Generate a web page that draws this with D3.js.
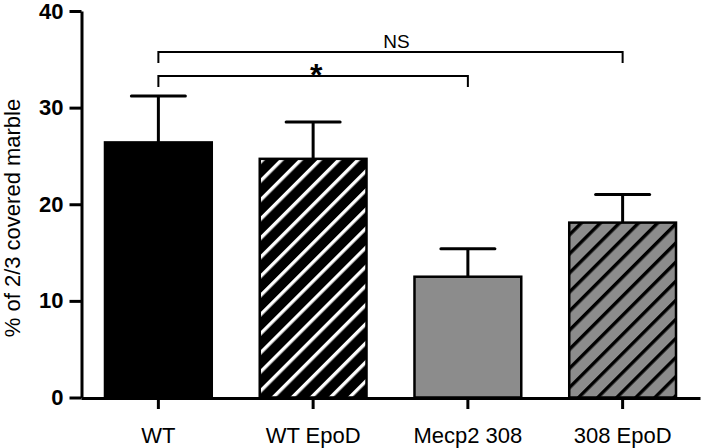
<!DOCTYPE html>
<html><head><meta charset="utf-8">
<script src="https://cdn.jsdelivr.net/npm/d3@7"></script>
<style>body{margin:0;background:#fff}svg{display:block}text{font-family:"Liberation Sans",Arial,sans-serif}</style>
</head><body>
<svg id="c" width="703" height="448"></svg>
<script>
const categories = ["WT", "WT EpoD", "Mecp2 308", "308 EpoD"];
const means = [26.4, 24.7, 12.5, 18.1];
const sems = [4.8, 3.8, 2.9, 2.9];
const yTicks = [0, 10, 20, 30, 40];
const fills = ["#000", "url(#hatchW)", "#8c8c8c", "url(#hatchG)"];
const comparisons = [
  {a: 0, b: 3, label: "NS", level: 0},
  {a: 0, b: 2, label: "*", level: 1}
];

const svg = d3.select("#c");
const x = d3.scaleBand().domain(categories).range([81, 700]).padding(0);
const y = d3.scaleLinear().domain([0, 40]).range([397.5, 11]);
const barW = x.bandwidth() * 0.69;

const defs = svg.append("defs");
function hatch(id, bg, fg) {
  const p = defs.append("pattern").attr("id", id).attr("patternUnits", "userSpaceOnUse")
    .attr("width", 13.5).attr("height", 13.5).attr("patternTransform", "rotate(45)");
  p.append("rect").attr("width", 13.5).attr("height", 13.5).attr("fill", bg);
  p.append("rect").attr("x", 0).attr("width", 3.4).attr("height", 13.5).attr("fill", fg);
}
hatch("hatchW", "#000", "#fff");
hatch("hatchG", "#8c8c8c", "#000");

// bars
svg.append("g").selectAll("rect").data(categories).join("rect")
  .attr("x", d => x(d) + (x.bandwidth() - barW) / 2)
  .attr("y", (d, i) => y(means[i]))
  .attr("width", barW)
  .attr("height", (d, i) => y(0) - y(means[i]))
  .attr("fill", (d, i) => fills[i])
  .attr("stroke", "#000").attr("stroke-width", 2.5);

// error bars
const eg = svg.append("g").attr("stroke", "#000").attr("stroke-width", 3);
categories.forEach((c, i) => {
  const cx = x(c) + x.bandwidth() / 2;
  eg.append("line").attr("x1", cx).attr("x2", cx).attr("y1", y(means[i])).attr("y2", y(means[i] + sems[i]));
  eg.append("line").attr("x1", cx - 27).attr("x2", cx + 27).attr("y1", y(means[i] + sems[i])).attr("y2", y(means[i] + sems[i])).attr("stroke-linecap", "round");
});

// axes
const yAxis = svg.append("g").attr("transform", "translate(81.5,0)")
  .call(d3.axisLeft(y).tickValues(yTicks).tickSize(12).tickPadding(6).tickSizeOuter(0));
yAxis.select(".domain").attr("stroke-width", 3);
yAxis.selectAll(".tick line").attr("stroke-width", 3);
yAxis.selectAll("text").attr("font-size", 22).attr("font-weight", "bold").attr("fill", "#000")
  .attr("font-family", "'Liberation Sans',Arial,sans-serif");

const xAxis = svg.append("g").attr("transform", "translate(0,398)")
  .call(d3.axisBottom(x).tickSize(11).tickPadding(18).tickSizeOuter(0));
xAxis.select(".domain").attr("stroke-width", 3);
xAxis.selectAll(".tick line").attr("stroke-width", 3);
xAxis.selectAll("text").attr("font-size", 22).attr("fill", "#000")
  .attr("font-family", "'Liberation Sans',Arial,sans-serif");

// y title
svg.append("text").attr("transform", "translate(20,218) rotate(-90)")
  .attr("text-anchor", "middle").attr("font-size", 22).attr("fill", "#000")
  .text("% of 2/3 covered marble");

// significance brackets
const levelY = [52, 76];
const bg = svg.append("g");
comparisons.forEach(cm => {
  const x1 = x(categories[cm.a]) + x.bandwidth() / 2;
  const x2 = x(categories[cm.b]) + x.bandwidth() / 2;
  const yy = levelY[cm.level];
  bg.append("path").attr("d", `M${x1},${yy + 11}V${yy}H${x2}V${yy + 11}`)
    .attr("fill", "none").attr("stroke", "#000").attr("stroke-width", 2);
  const t = bg.append("text").attr("x", (x1 + x2) / 2 + (cm.label === "NS" ? 6 : 3))
    .attr("text-anchor", "middle").attr("fill", "#000").text(cm.label);
  if (cm.label === "*") t.attr("y", yy + 10).attr("font-size", 32).attr("font-weight", "bold");
  else t.attr("y", yy - 4).attr("font-size", 19);
});
</script>
</body></html>
